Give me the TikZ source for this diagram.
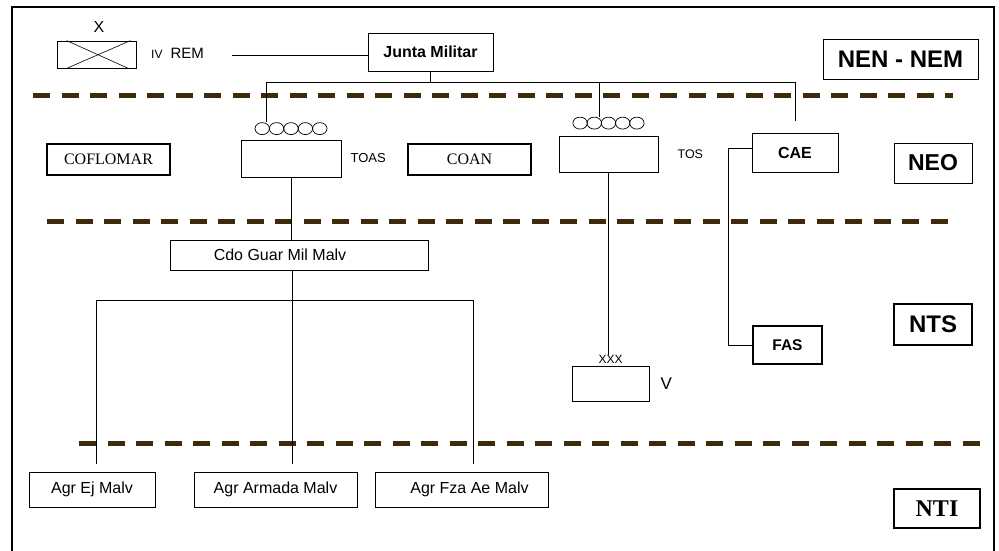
\documentclass[tikz,border=0pt]{standalone}
\usepackage{fontspec}
\setmainfont{Liberation Sans}
\newfontfamily\timesfont{Liberation Serif}
\usepackage{tikz}
\usetikzlibrary{shapes.geometric,positioning,calc}

\definecolor{levelbrown}{RGB}{62,43,12}
\newcommand{\px}[1]{\fontsize{#1}{#1}\selectfont}

\begin{document}
\begin{tikzpicture}[
  x=1pt,y=-1pt,
  font=\px{16},
  box/.style={draw,line width=0.8pt,inner sep=0pt},
  thickbox/.style={draw,line width=2.6pt,inner sep=0pt},
  lbl/.style={inner sep=0pt},
  link/.style={line width=0.8pt},
  level/.style={draw=levelbrown,line width=5pt,dash pattern=on 17pt off 11.5pt},
  ring/.style={draw,ellipse,line width=0.7pt,minimum width=14.4pt,minimum height=12pt,inner sep=0pt}]
\useasboundingbox (0,0) rectangle (999,550);

% --- outer frame ---
\draw[line width=1.3pt] (12,552) -- (12,7) -- (994,7) -- (994,552);

% --- level separators ---
\draw[level] (33,95) -- (953,95);
\draw[level] (47,221) -- (957,221);
\draw[level] (79,443) -- (987,443);

% --- level tags on the right ---
\node[box,minimum width=155pt,minimum height=40pt,font=\px{24}\bfseries] (nennem) at (900.5,59) {NEN - NEM};
\node[box,minimum width=78pt,minimum height=40pt,font=\px{23}\bfseries] (neo) at (933,163) {NEO};
\node[thickbox,minimum width=78pt,minimum height=41pt,font=\px{24}\bfseries] (nts) at (933,324.5) {NTS};
\node[thickbox,minimum width=86pt,minimum height=39pt,font=\timesfont\px{24}\bfseries] (nti) at (937,508.5) {NTI};

% --- strategic level ---
\node[box,minimum width=79pt,minimum height=27pt] (rem) at (96.5,54.5) {};
\draw[line width=0.6pt] ([xshift=10pt]rem.north west) -- ([xshift=-8pt]rem.south east);
\draw[line width=0.6pt] ([xshift=10pt]rem.south west) -- ([xshift=-6pt]rem.north east);
\node[lbl,font=\px{16}] (remx) at (99,27) {X};
\node[lbl,anchor=west] (remtxt) at (151,53) {{\px{12}IV}\hspace{8pt}{\px{15}REM}};
\coordinate (remend) at (232,55);

\node[box,minimum width=125pt,minimum height=38pt,font=\px{16}\bfseries] (junta) at (430.5,52) {Junta Militar};
\draw[link] (remend) -- (remend -| junta.west);

% --- operational level ---
\node[thickbox,minimum width=123pt,minimum height=31pt,font=\timesfont\px{16}] (coflomar) at (108.5,159.5) {COFLOMAR};
\node[box,minimum width=100pt,minimum height=37pt] (toas) at (291,158.5) {};
\node[lbl,font=\px{13},right=9pt of toas] (toaslbl) {TOAS};
\node[thickbox,minimum width=123pt,minimum height=31pt,font=\timesfont\px{16}] (coan) at (469.5,159.5) {COAN};
\node[box,minimum width=99pt,minimum height=36pt] (tos) at (608.5,154) {};
\node[lbl,font=\px{12.5},right=19pt of tos] (toslbl) {TOS};
\node[box,minimum width=86pt,minimum height=39pt,font=\px{16}\bfseries] (cae) at (795,152.5) {CAE};

\foreach \i/\n in {-2/1,-1/2,0/3,1/4,2/5} {
  \node[ring] (toasr\n) at ($(toas.north)+(\i*14.4,-11)$) {};
  \node[ring] (tosr\n) at ($(tos.north)+(\i*14.2,-12.5)$) {};
}

% --- bus under the junta ---
\coordinate (busL) at (266,82);
\coordinate (busT) at (599,82);
\coordinate (busR) at (795,82);
\draw[link] (junta.south) -- (junta.south |- busL);
\draw[link] (busL) -- (busR);
\draw[link] (busL) -- (busL |- toasr1.north);
\draw[link] (busT) -- (busT |- tosr3.north);
\draw[link] (busR) -- ($(cae.north)+(0,-12)$);

% --- strategic-operational level ---
\node[box,minimum width=258pt,minimum height=30pt] (cdo) at (299,255) {\hspace*{-38pt}Cdo Guar Mil Malv};
\draw[link] (toas.south) -- (toas.south |- cdo.north);

\node[box,minimum width=77pt,minimum height=35pt] (vbox) at (610.5,383.5) {};
\node[lbl,font=\px{12},above=2pt of vbox] (xxx) {XXX};
\node[lbl,font=\px{17},right=11pt of vbox] (vlbl) {V};
\draw[link] (tos.south) -- (tos.south |- xxx.north);

\node[thickbox,minimum width=69pt,minimum height=38pt,font=\px{15.5}\bfseries] (fas) at (787.5,345) {FAS};
\coordinate (caefas) at (728,148);
\draw[link] (cae.west |- caefas) -- (caefas) |- (fas.west);

% --- tactical level ---
\node[box,minimum width=126pt,minimum height=35pt] (agrej) at (92,489.5) {Agr Ej Malv};
\node[box,minimum width=163pt,minimum height=35pt] (agrarm) at (275.5,489.5) {Agr Armada Malv};
\node[box,minimum width=173pt,minimum height=35pt] (agrfza) at (461.5,489.5) {\hspace*{16pt}Agr Fza Ae Malv};

\coordinate (b1) at (96,300);
\coordinate (b2) at (292,300);
\coordinate (b3) at (473,300);
\draw[link] (cdo.south -| b2) -- (b2);
\draw[link] (b1) -- (b3);
\draw[link] (b1) -- ($(b1 |- agrej.north)+(0,-8)$);
\draw[link] (b2) -- ($(b2 |- agrarm.north)+(0,-8)$);
\draw[link] (b3) -- ($(b3 |- agrfza.north)+(0,-8)$);
\end{tikzpicture}
\end{document}
